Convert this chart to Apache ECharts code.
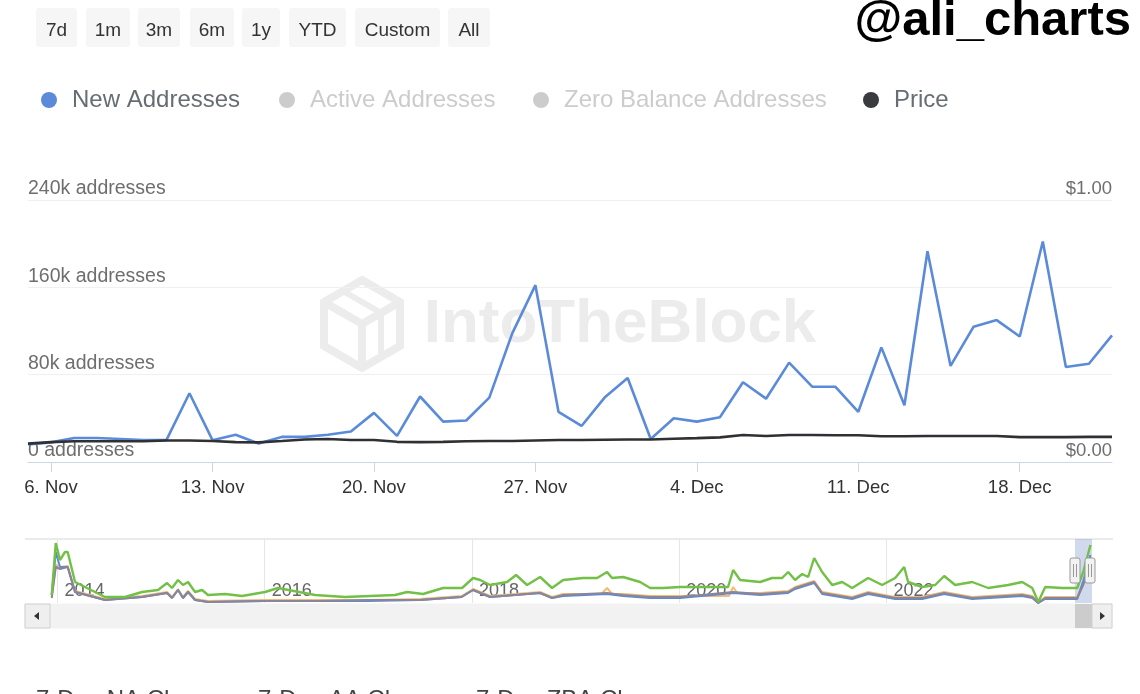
<!DOCTYPE html>
<html><head><meta charset="utf-8">
<script src="https://cdn.jsdelivr.net/npm/echarts@6/dist/echarts.min.js"></script>
<style>html,body{margin:0;padding:0;background:#fff}#c{width:1140px;height:694px}</style>
</head><body><div id="c"></div>
<script>
// ---- data ----
const categories = ['5. Nov','6. Nov','7. Nov','8. Nov','9. Nov','10. Nov','11. Nov','12. Nov','13. Nov','14. Nov','15. Nov','16. Nov','17. Nov','18. Nov','19. Nov','20. Nov','21. Nov','22. Nov','23. Nov','24. Nov','25. Nov','26. Nov','27. Nov','28. Nov','29. Nov','30. Nov','1. Dec','2. Dec','3. Dec','4. Dec','5. Dec','6. Dec','7. Dec','8. Dec','9. Dec','10. Dec','11. Dec','12. Dec','13. Dec','14. Dec','15. Dec','16. Dec','17. Dec','18. Dec','19. Dec','20. Dec','21. Dec','22. Dec'];
const xTickLabels = ['6. Nov','13. Nov','20. Nov','27. Nov','4. Dec','11. Dec','18. Dec'];
const newAddresses = [16000,18000,22000,22000,21000,20000,20000,63000,20000,25000,17000,23000,23000,25000,28000,45000,24000,60000,37000,38000,59000,118000,162000,46000,33000,59000,77000,21000,40000,37000,41000,73000,58000,91000,69000,69000,46000,105000,52000,193000,88000,124000,130000,115000,202000,87000,90000,116000];
const price = [0.070,0.076,0.079,0.079,0.079,0.079,0.082,0.082,0.080,0.076,0.075,0.080,0.086,0.088,0.084,0.084,0.077,0.076,0.077,0.079,0.080,0.080,0.082,0.084,0.084,0.085,0.086,0.086,0.089,0.091,0.094,0.103,0.099,0.103,0.103,0.102,0.102,0.098,0.098,0.099,0.099,0.099,0.099,0.095,0.095,0.095,0.096,0.096];
const activeAddresses = [];
const zeroBalanceAddresses = [];
const leftTicks = ['0 addresses','80k addresses','160k addresses','240k addresses'];
const rightTicks = ['$0.00','$1.00'];
const navYearTicks = [2014,2016,2018,2020,2022];
// navigator overview (decimal year, relative height)
const navGreen = [[2013.944,8],[2013.983,60],[2014.024,43],[2014.072,51],[2014.098,51],[2014.169,21],[2014.458,6],[2014.652,6],[2014.816,11],[2014.970,13],[2015.057,20],[2015.105,15],[2015.163,23],[2015.211,18],[2015.260,21],[2015.327,11],[2015.395,13],[2015.453,8],[2015.617,9],[2015.781,7],[2016.003,11],[2016.128,15],[2016.486,8],[2016.775,6],[2017.258,8],[2017.374,11],[2017.528,9],[2017.721,15],[2017.905,15],[2018.011,25],[2018.079,23],[2018.175,18],[2018.339,21],[2018.426,28],[2018.532,18],[2018.658,26],[2018.773,15],[2018.880,23],[2019.073,25],[2019.208,25],[2019.304,31],[2019.352,25],[2019.459,26],[2019.623,21],[2019.720,15],[2019.845,15],[2020.009,16],[2020.472,16],[2020.521,33],[2020.588,23],[2020.781,21],[2020.897,25],[2020.994,25],[2021.052,31],[2021.119,23],[2021.187,29],[2021.245,26],[2021.303,45],[2021.380,31],[2021.477,18],[2021.573,21],[2021.670,15],[2021.824,25],[2021.959,18],[2022.085,25],[2022.172,36],[2022.210,21],[2022.345,16],[2022.471,18],[2022.558,27],[2022.664,18],[2022.828,21],[2022.983,15],[2023.176,18],[2023.311,21],[2023.408,15],[2023.466,1],[2023.533,16],[2023.697,15],[2023.842,15],[2023.900,31],[2023.970,58]];
const navOrange = [[2013.944,6],[2013.983,38],[2014.024,36],[2014.098,37],[2014.169,12],[2014.458,4],[2014.816,7],[2015.057,11],[2015.105,6],[2015.163,14],[2015.211,6],[2015.260,12],[2015.327,4],[2015.453,2],[2016.0,3],[2016.5,3],[2017.0,3],[2017.5,4],[2017.9,7],[2018.011,14],[2018.175,7],[2018.658,11],[2018.773,6],[2018.880,9],[2019.25,9],[2019.304,15],[2019.352,9],[2019.459,9],[2019.720,7],[2020.009,7],[2020.48,7],[2020.521,16],[2020.56,10],[2020.781,10],[2021.052,12],[2021.119,16],[2021.303,22],[2021.380,11],[2021.670,6],[2021.824,11],[2022.085,6],[2022.345,6],[2022.558,11],[2022.828,6],[2023.311,9],[2023.408,7],[2023.466,1],[2023.533,6],[2023.842,6],[2023.900,20],[2023.970,40]];
const navBlue = [[2013.944,8],[2013.983,51],[2014.024,36],[2014.072,36],[2014.098,36],[2014.169,11],[2014.458,3],[2014.816,6],[2015.057,10],[2015.105,5],[2015.163,13],[2015.211,5],[2015.260,11],[2015.327,3],[2015.453,1],[2016.0,2],[2016.5,2],[2017.0,2],[2017.5,3],[2017.9,6],[2018.011,13],[2018.175,6],[2018.658,10],[2018.773,5],[2018.880,7],[2019.304,9],[2019.459,7],[2019.720,5],[2020.009,5],[2020.521,10],[2020.781,8],[2021.052,10],[2021.119,14],[2021.303,20],[2021.380,9],[2021.670,4],[2021.824,9],[2022.085,4],[2022.345,4],[2022.558,9],[2022.828,4],[2023.311,7],[2023.408,5],[2023.466,0],[2023.533,4],[2023.842,4],[2023.900,22],[2023.970,48]];
const navGray = [[2013.944,5],[2013.983,36],[2014.024,34],[2014.098,36],[2014.169,11],[2014.458,3],[2014.816,6],[2015.057,10],[2015.105,5],[2015.163,13],[2015.211,5],[2015.260,11],[2015.327,3],[2015.453,1],[2016.0,2],[2016.5,2],[2017.0,3],[2017.5,3],[2017.9,6],[2018.011,13],[2018.175,6],[2018.658,10],[2018.773,5],[2018.880,8],[2019.304,10],[2019.459,8],[2019.720,6],[2020.009,6],[2020.521,11],[2020.781,9],[2021.052,11],[2021.119,15],[2021.303,21],[2021.380,10],[2021.670,5],[2021.824,10],[2022.085,5],[2022.345,5],[2022.558,10],[2022.828,5],[2023.311,8],[2023.408,6],[2023.466,0],[2023.533,5],[2023.842,5],[2023.900,18],[2023.970,36]];
const buttons = ['7d','1m','3m','6m','1y','YTD','Custom','All'];
const bottomLabels = ['7-Day NA Change','7-Day AA Change','7-Day ZBA Change'];

// ---- layout ----
const FONT = 'Liberation Sans, Arial, sans-serif';
const btnBoxes = [[36,41],[86,44],[138,42],[190,44],[242,38],[289,57],[355,85],[448,42]];
const graphics = [];
buttons.forEach((b,i)=>{
  const [x,w] = btnBoxes[i];
  graphics.push({type:'rect',left:x,top:8,shape:{width:w,height:39,r:3},style:{fill:'#f6f6f6'},silent:true});
  graphics.push({type:'text',x:x+w/2,y:31,style:{text:b,font:'19px '+FONT,fill:'#333',align:'center',verticalAlign:'middle'},silent:true});
});
graphics.push({type:'text',x:1131,y:21,style:{text:'@ali_charts',font:'bold 49px '+FONT,fill:'#000',align:'right',verticalAlign:'middle'},silent:true,z:10});
// watermark
graphics.push({type:'text',x:620,y:325,style:{text:'IntoTheBlock',font:'bold 62px '+FONT,fill:'#ececec',align:'center',verticalAlign:'middle'},silent:true,z:-1});
graphics.push({type:'polygon',shape:{points:[[362,280],[400,302],[400,346],[362,368],[324,346],[324,302]]},style:{fill:'none',stroke:'#ececec',lineWidth:8},silent:true,z:-1});
graphics.push({type:'polyline',shape:{points:[[324,302],[362,324],[400,302]]},style:{stroke:'#ececec',lineWidth:8,fill:'none'},silent:true,z:-1});
graphics.push({type:'polyline',shape:{points:[[362,324],[362,368]]},style:{stroke:'#ececec',lineWidth:8,fill:'none'},silent:true,z:-1});
graphics.push({type:'polyline',shape:{points:[[343,291],[381,313],[381,357]]},style:{stroke:'#ececec',lineWidth:6,fill:'none'},silent:true,z:-1});
// navigator outline, mask, handles, scrollbar
graphics.push({type:'line',shape:{x1:25,y1:539,x2:1113,y2:539},style:{stroke:'#d6d6d6',lineWidth:1},silent:true});
graphics.push({type:'rect',shape:{x:1075,y:539,width:17,height:64},style:{fill:'rgba(102,133,194,0.3)'},silent:true});
graphics.push({type:'rect',shape:{x:25,y:604,width:1087,height:24},style:{fill:'#f2f2f2',stroke:'#f2f2f2'},silent:true});
graphics.push({type:'rect',shape:{x:25,y:604,width:25,height:24},style:{fill:'#efefef',stroke:'#d0d0d0',lineWidth:1},silent:true});
graphics.push({type:'polygon',shape:{points:[[34,616],[39,612],[39,620]]},style:{fill:'#333'},silent:true});
graphics.push({type:'rect',shape:{x:1075,y:604,width:17,height:24},style:{fill:'#cccccc'},silent:true});
graphics.push({type:'rect',shape:{x:1092,y:604,width:20,height:24},style:{fill:'#efefef',stroke:'#d0d0d0',lineWidth:1},silent:true});
graphics.push({type:'polygon',shape:{points:[[1105,616],[1100,612],[1100,620]]},style:{fill:'#333'},silent:true});
[[1070],[1085]].forEach(([hx])=>{
  graphics.push({type:'rect',shape:{x:hx,y:558,width:10,height:25,r:2},style:{fill:'#f2f2f2',stroke:'#999',lineWidth:1},silent:true,z:20});
  graphics.push({type:'line',shape:{x1:hx+3.5,y1:564,x2:hx+3.5,y2:577},style:{stroke:'#999',lineWidth:1},silent:true,z:21});
  graphics.push({type:'line',shape:{x1:hx+6.5,y1:564,x2:hx+6.5,y2:577},style:{stroke:'#999',lineWidth:1},silent:true,z:21});
});
const bottomX = [36,258,476];
bottomLabels.forEach((t,i)=>graphics.push({type:'text',x:bottomX[i],y:700,style:{text:t,font:'24px '+FONT,fill:'#444',align:'left',verticalAlign:'middle'},silent:true}));

const legendPos = [['New Addresses',41],['Active Addresses',279],['Zero Balance Addresses',533],['Price',863]];
const legends = legendPos.map(([n,x])=>({
  data:[n], left:x, top:88, padding:0, icon:'circle', itemWidth:16, itemHeight:16, inactiveColor:'#cccccc',
  selected:{'Active Addresses':false,'Zero Balance Addresses':false},
  textStyle:{fontSize:24, fontFamily:FONT, color:'#666d73', padding:[0,0,0,10]}
}));

const chart = echarts.init(document.getElementById('c'), null, {renderer:'canvas'});
chart.setOption({
  animation:false,
  backgroundColor:'#fff',
  legend: legends,
  grid:[
    {left:28,right:28,top:200,height:262},
    {left:48,right:49,top:539,height:64}
  ],
  xAxis:[
    {type:'category',gridIndex:0,data:categories,boundaryGap:false,
     axisLine:{lineStyle:{color:'#ccd6eb',width:1}},
     axisTick:{show:true,length:10,lineStyle:{color:'#ccd6eb'},interval:(i,v)=>xTickLabels.indexOf(v)>=0},
     axisLabel:{interval:(i,v)=>xTickLabels.indexOf(v)>=0,fontSize:18.5,fontFamily:FONT,color:'#333',margin:16},
     splitLine:{show:false}},
    {type:'value',gridIndex:1,min:2013.908,max:2023.975,
     axisLine:{show:false},
     axisTick:{show:false,customValues:navYearTicks},
     axisLabel:{customValues:navYearTicks,inside:true,margin:3,align:'left',verticalAlign:'bottom',padding:[0,0,0,7],
       formatter:v=>String(v),fontSize:18,fontFamily:FONT,color:'#666',textBorderColor:'#fff',textBorderWidth:3},
     splitLine:{show:true,lineStyle:{color:'#e6e6e6',width:1}}}
  ],
  yAxis:[
    {type:'value',gridIndex:0,min:0,max:240000,interval:80000,position:'left',
     axisLine:{show:false},axisTick:{show:false},
     axisLabel:{inside:true,margin:0,verticalAlign:'bottom',lineHeight:22,padding:0,fontSize:19.5,fontFamily:FONT,color:'#6e6e6e',
       formatter:v=>leftTicks[Math.round(v/80000)]},
     splitLine:{lineStyle:{color:'#f0f0f0',width:1}}},
    {type:'value',gridIndex:0,min:0,max:1,interval:1,position:'right',
     axisLine:{show:false},axisTick:{show:false},
     axisLabel:{inside:true,margin:0,verticalAlign:'bottom',lineHeight:22,padding:0,fontSize:18.5,fontFamily:FONT,color:'#6e6e6e',
       formatter:v=>rightTicks[Math.round(v)]},
     splitLine:{show:false}},
    {type:'value',gridIndex:1,min:0,max:64,show:false}
  ],
  series:[
    {name:'New Addresses',type:'line',xAxisIndex:0,yAxisIndex:0,data:newAddresses,symbol:'none',color:'#5b8bd8',lineStyle:{width:2.6,color:'#5b8bd8'},z:3},
    {name:'Active Addresses',type:'line',xAxisIndex:0,yAxisIndex:0,data:activeAddresses,symbol:'none',color:'#f3b45e'},
    {name:'Zero Balance Addresses',type:'line',xAxisIndex:0,yAxisIndex:0,data:zeroBalanceAddresses,symbol:'none',color:'#7cc04b'},
    {name:'Price',type:'line',xAxisIndex:0,yAxisIndex:1,data:price,symbol:'none',color:'#3a3b40',lineStyle:{width:2.6,color:'#2f3034'},z:4},
    {name:'navGreen',type:'line',xAxisIndex:1,yAxisIndex:2,data:navGreen,symbol:'none',lineStyle:{width:2.4,color:'#72c046'},z:3},
    {name:'navOrange',type:'line',xAxisIndex:1,yAxisIndex:2,data:navOrange,symbol:'none',lineStyle:{width:2,color:'#f2bc74'},z:2},
    {name:'navBlue',type:'line',xAxisIndex:1,yAxisIndex:2,data:navBlue,symbol:'none',lineStyle:{width:2,color:'#5b8bd8'},z:2},
    {name:'navGray',type:'line',xAxisIndex:1,yAxisIndex:2,data:navGray,symbol:'none',lineStyle:{width:2,color:'#8a8597'},z:2}
  ],
  graphic: graphics
});
</script></body></html>
